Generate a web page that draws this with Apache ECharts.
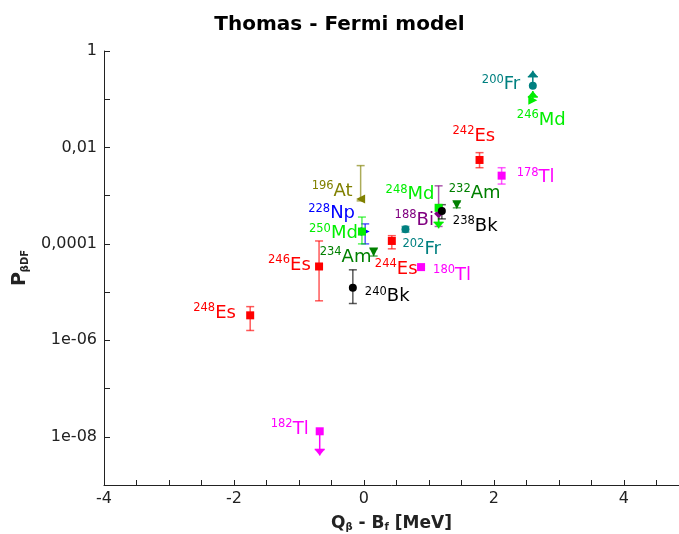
<!DOCTYPE html>
<html>
<head>
<meta charset="utf-8">
<script src="https://cdn.jsdelivr.net/npm/echarts@6/dist/echarts.min.js"></script>
<style>html,body{margin:0;padding:0;background:#fff}#c{width:679px;height:534px}</style>
</head>
<body>
<div id="c"></div>
<script>
// ---- data ----
const masses   = ['248','246','182','196','228','250','234','240','244','180','202','188','248','238','232','242','178','200','246'];
const elements = ['Es','Es','Tl','At','Np','Md','Am','Bk','Es','Tl','Fr','Bi','Md','Bk','Am','Es','Tl','Fr','Md'];
const xValues  = [-1.75,-0.69,-0.68,-0.05,0.02,-0.03,0.15,-0.17,0.43,0.88,0.64,1.15,1.15,1.20,1.43,1.78,2.12,2.60,2.60];
const pValues  = [3.3e-6,3.4e-5,1.3e-8,8.5e-4,1.8e-4,1.8e-4,6.8e-5,1.23e-5,1.15e-4,3.3e-5,2.0e-4,4.2e-4,5.6e-4,4.8e-4,6.5e-4,5.5e-3,2.6e-3,0.19,0.095];
const errLow   = [1.6e-6,6.6e-6,null,7.8e-4,1.0e-4,1.0e-4,5.6e-5,5.8e-6,7.9e-5,3.1e-5,1.75e-4,2.3e-4,null,3.3e-4,5.6e-4,3.8e-3,1.74e-3,null,null];
const errHigh  = [5.0e-6,1.15e-4,null,4.2e-3,2.6e-4,3.6e-4,7.9e-5,2.9e-5,1.48e-4,3.5e-5,2.3e-4,1.6e-3,null,6.5e-4,7.4e-4,7.8e-3,3.8e-3,null,null];
const limitTo  = [null,null,4.1e-9,null,null,null,null,null,null,null,null,null,2.1e-4,null,null,null,null,0.39,0.148];
const xTickLabels = ['-4','-2','0','2','4'];
const yTickLabels = {'0':'1','-2':'0,01','-4':'0,0001','-6':'1e-06','-8':'1e-08'};

// ---- styles ----
const elementColor = {Es:'#ff0000',Tl:'#ff00ff',At:'#808000',Np:'#0000ff',Md:'#00ee00',Am:'#008000',Bk:'#000000',Fr:'#008080',Bi:'#800080'};
const markerStyle = [
  ['rect',0],['rect',0],['rect',0],['triangle',90],['triangle',-90],['rect',0],['triangle',180],['circle',0],['rect',0],['rect',0],
  ['circle',0],['diamond',0],['rect',0],['circle',0],['triangle',180],['rect',0],['rect',0],['circle',0],['triangle',-90]
];
const labelOffset = [
  [-57,-2],[-51,-1],[-49,-2],[-49,-8],[-57,-18],[-53,2],[-54,5],[12,9],[-17,28],[12,8],
  [-3,20],[-44,6],[-53,-13],[11,15],[-8,-11],[-27,-24],[15,2],[-51,-1],[-16,20]
];

const FONT = 'DejaVu Sans';
const series = [];
masses.forEach((m, i) => {
  const col = elementColor[elements[i]];
  series.push({
    type: 'scatter',
    z: 3,
    data: [[xValues[i], pValues[i]]],
    symbol: markerStyle[i][0],
    symbolRotate: markerStyle[i][1],
    symbolSize: markerStyle[i][0] === 'triangle' ? 9 : (markerStyle[i][0] === 'diamond' ? 9 : 8),
    itemStyle: {color: col, opacity: 1},
    label: {
      show: true,
      position: 'inside',
      align: 'left',
      verticalAlign: 'middle',
      offset: labelOffset[i],
      formatter: '{s|' + m + '}{e|' + elements[i] + '}',
      rich: {
        s: {fontFamily: FONT, fontSize: 11.5, color: col, verticalAlign: 'top', lineHeight: 10},
        e: {fontFamily: FONT, fontSize: 18, color: col, lineHeight: 22}
      }
    },
    emphasis: {disabled: true}
  });
});

// error bars and limit arrows
const barData = [];
masses.forEach((m, i) => {
  barData.push([xValues[i], pValues[i], errLow[i] == null ? NaN : errLow[i], errHigh[i] == null ? NaN : errHigh[i], limitTo[i] == null ? NaN : limitTo[i], i]);
});
series.push({
  type: 'custom',
  z: 2,
  silent: true,
  encode: {x: 0, y: 1},
  data: barData,
  renderItem: function (params, api) {
    const x = api.value(0), p = api.value(1), lo = api.value(2), hi = api.value(3), lim = api.value(4), idx = api.value(5);
    const col = elementColor[elements[idx]];
    const children = [];
    const cap = 4;
    if (!isNaN(lo) && !isNaN(hi)) {
      const a = api.coord([x, lo]), b = api.coord([x, hi]);
      const st = {stroke: col, lineWidth: 1.5, opacity: 0.65};
      children.push({type: 'line', shape: {x1: a[0], y1: a[1], x2: b[0], y2: b[1]}, style: st});
      children.push({type: 'line', shape: {x1: a[0]-cap, y1: a[1], x2: a[0]+cap, y2: a[1]}, style: st});
      children.push({type: 'line', shape: {x1: b[0]-cap, y1: b[1], x2: b[0]+cap, y2: b[1]}, style: st});
    }
    if (!isNaN(lim)) {
      const a = api.coord([x, p]), b = api.coord([x, lim]);
      const dir = b[1] > a[1] ? 1 : -1;
      const st = {stroke: col, lineWidth: 1.5};
      children.push({type: 'line', shape: {x1: a[0], y1: a[1], x2: b[0], y2: b[1]}, style: st});
      children.push({type: 'polygon', shape: {points: [[b[0]-5, b[1]-6*dir], [b[0]+5, b[1]-6*dir], [b[0], b[1]]]}, style: {fill: col}});
      children.push({type: 'line', shape: {x1: b[0]-5, y1: b[1]-6*dir, x2: b[0]+5, y2: b[1]-6*dir}, style: st});
    }
    return {type: 'group', children: children};
  }
});

const chart = echarts.init(document.getElementById('c'), null, {renderer: 'canvas'});
chart.setOption({
  animation: false,
  backgroundColor: '#ffffff',
  title: {
    text: 'Thomas - Fermi model',
    left: 'center',
    top: 10,
    textStyle: {fontFamily: FONT, fontSize: 20, fontWeight: 'bold', color: '#000'}
  },
  grid: {left: 104, right: 0, top: 51, bottom: 49, containLabel: false, outerBoundsMode: 'none'},
  xAxis: {
    type: 'value',
    min: -4, max: 4.85, interval: 0.5,
    splitLine: {show: false},
    axisLine: {onZero: false, lineStyle: {color: '#222', width: 1}},
    axisTick: {inside: true, length: 5, lineStyle: {color: '#222'}},
    axisLabel: {
      fontFamily: FONT, fontSize: 16, color: '#222', margin: 6,
      formatter: function (v) {
        const r = Math.round(v * 100) / 100;
        const s = String(r);
        return (Math.abs(r % 2) < 1e-9 && xTickLabels.indexOf(s) >= 0) ? s : '';
      }
    },
    name: '{q|Q}{qs|β}{q| - B}{qs|f}{q| [MeV]}',
    nameLocation: 'middle',
    nameGap: 30,
    nameTextStyle: {
      rich: {
        q: {fontFamily: FONT, fontSize: 17, fontWeight: 'bold', color: '#222'},
        qs: {fontFamily: FONT, fontSize: 10, fontWeight: 'bold', color: '#222', verticalAlign: 'bottom'}
      }
    }
  },
  yAxis: {
    type: 'log',
    logBase: 10,
    min: 1e-9, max: 1,
    splitNumber: 9,
    splitLine: {show: false},
    axisLine: {show: true, onZero: false, lineStyle: {color: '#222', width: 1}},
    axisTick: {show: true, inside: true, length: 6, lineStyle: {color: '#222'}},
    axisLabel: {
      fontFamily: FONT, fontSize: 16, color: '#222', margin: 7,
      formatter: function (v) {
        const e = Math.round(Math.log10(v));
        return yTickLabels[String(e)] || '';
      }
    },
    name: '{p|P}{ps|βDF}',
    nameLocation: 'middle',
    nameGap: 74,
    nameRotate: 90,
    nameTextStyle: {
      rich: {
        p: {fontFamily: FONT, fontSize: 19, fontWeight: 'bold', color: '#222'},
        ps: {fontFamily: FONT, fontSize: 10, fontWeight: 'bold', color: '#222', verticalAlign: 'bottom'}
      }
    }
  },
  series: series
});
</script>
</body>
</html>
